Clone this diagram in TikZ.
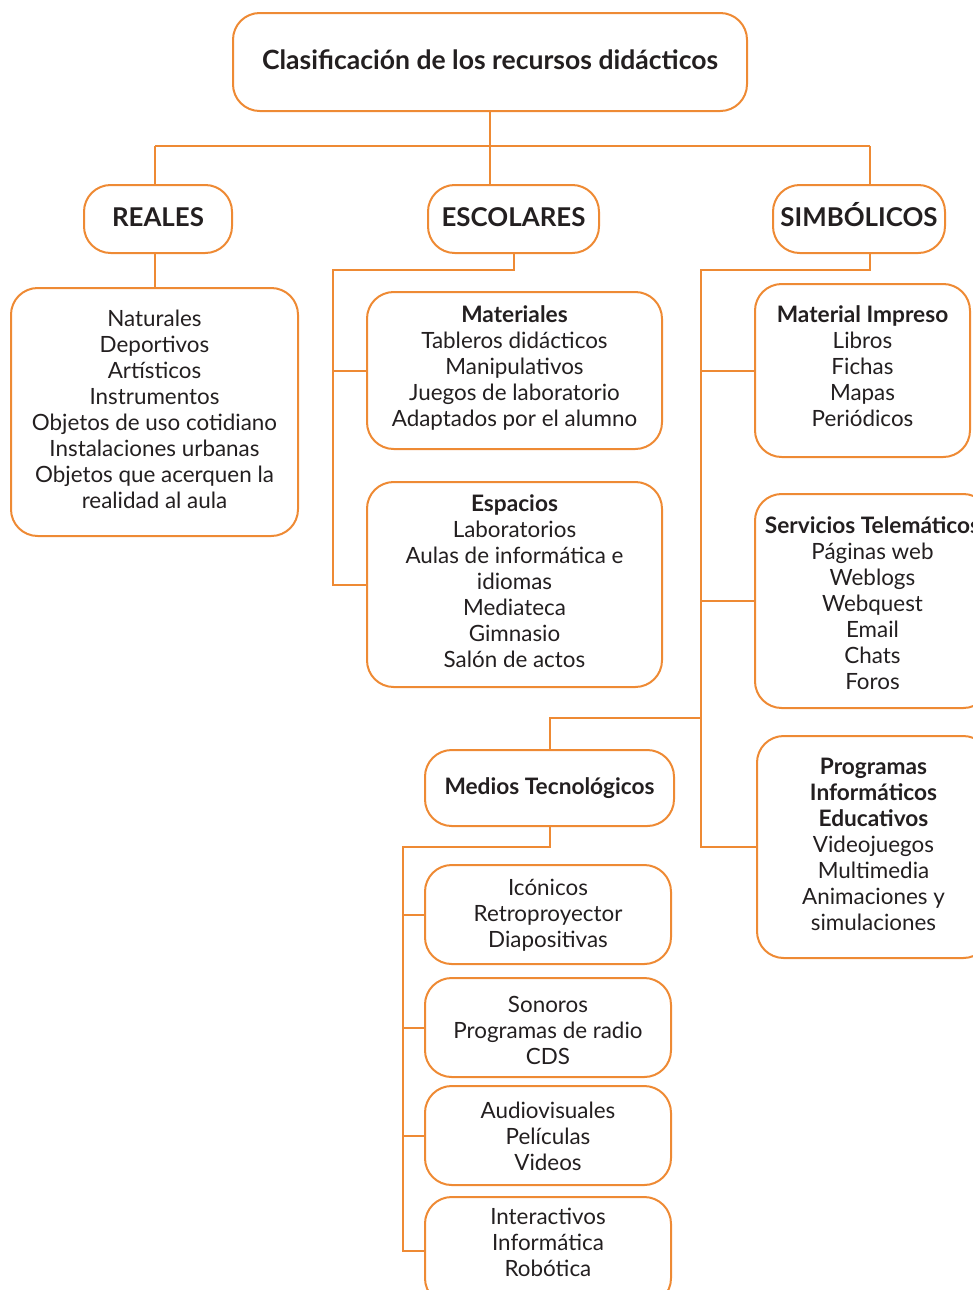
\documentclass[tikz,border=0pt]{standalone}
\usepackage{fontspec}
\setmainfont{Lato}
\definecolor{org}{HTML}{EE8A34}
\definecolor{txt}{HTML}{231F20}
\newcommand\mybox[7][]{%
  \node[box,minimum width={0.75pt*(#5-#3)},minimum height={0.75pt*(#6-#4)}] (#2) at ({(#3+#5)/2},{(#4+#6)/2}) {};
  \node[lbl,#1] (#2t) at (#2.center) {#7};}
\newcommand\reg{\fontsize{16.8pt}{19.5pt}\selectfont}
\newcommand\hd{\fontsize{17pt}{19.5pt}\selectfont\bfseries}
\newcommand\tophd{\fontsize{19.4pt}{22pt}\selectfont\bfseries}
\begin{document}
\begin{tikzpicture}[x=0.75pt,y=-0.75pt,
  box/.style={draw=org,line width=1.5pt,rounded corners=20pt,inner sep=0pt},
  lbl/.style={inner sep=0pt,align=center,text=txt,font=\reg},
  one/.style={text height=14pt,text depth=0pt},
  dy/.style={yshift={-0.75pt*(#1)}},
  conn/.style={draw=org,line width=1.5pt}]
\useasboundingbox (0,0) rectangle (973,1290);
\clip (0,0) rectangle (973,1290);
% top
\mybox[one,dy=-2]{t}{233}{13}{747}{111}{\fontsize{19.9pt}{24pt}\selectfont\bfseries Clasificación de los recursos didácticos}
\mybox[one,dy=-2]{rea}{84}{185}{232}{253}{\tophd REALES}
\mybox[one,dy=-2]{esc}{428}{185}{599}{253}{\tophd ESCOLARES}
\mybox[one,dy=-2]{sim}{773}{185}{945}{253}{\tophd SIMBÓLICOS}
% reales
\mybox[dy=-3]{rbox}{11}{288}{298}{536}{Naturales\\Deportivos\\Artísticos\\Instrumentos\\Objetos de uso cotidiano\\Instalaciones urbanas\\Objetos que acerquen la\\realidad al aula}
% escolares
\mybox[dy=-3]{mat}{367}{292}{662}{449}{{\hd Materiales}\\Tableros didácticos\\Manipulativos\\Juegos de laboratorio\\Adaptados por el alumno}
\mybox[dy=-3]{esp}{367}{482}{662}{687}{{\hd Espacios}\\Laboratorios\\Aulas de informática e\\idiomas\\Mediateca\\Gimnasio\\Salón de actos}
% simbolicos
\mybox[dy=-4]{imp}{755}{284}{970}{457}{{\hd Material Impreso}\\Libros\\Fichas\\Mapas\\Periódicos}
\mybox[dy=2]{serv}{755}{494}{990}{708}{{\hd Servicios Telemáticos}\\Páginas web\\Weblogs\\Webquest\\Email\\Chats\\Foros}
\mybox[dy=-3]{prog}{757}{736}{990}{958}{{\hd Programas}\\{\hd Informáticos}\\{\hd Educativos}\\Videojuegos\\Multimedia\\Animaciones y\\simulaciones}
\mybox[one,dy=-3]{med}{425}{750}{674}{826}{\hd Medios Tecnológicos}
\mybox[dy=1]{ico}{425}{865}{671}{964}{Icónicos\\Retroproyector\\Diapositivas}
\mybox[dy=3]{son}{425}{978}{671}{1077}{Sonoros\\Programas de radio\\CDS}
\mybox[dy=1]{aud}{425}{1086}{671}{1185}{Audiovisuales\\Películas\\Videos}
\mybox[dy=-8.5]{int}{425}{1197}{671}{1305}{Interactivos\\Informática\\Robótica}
% connectors
\coordinate (j1) at (490,146);
\coordinate (jl) at (155,146);
\coordinate (jr) at (870,146);
\draw[conn] (t.south) -- (j1);
\draw[conn] (jl) -- (jr);
\draw[conn] (jl) -- (jl |- rea.north);
\draw[conn] (j1) -- (j1 |- esc.north);
\draw[conn] (jr) -- (jr |- sim.north);
\draw[conn] (jl |- rea.south) -- (jl |- rbox.north);
\coordinate (e1) at (333,270);
\draw[conn] (esc.south) |- (e1) -- (e1 |- esp.west) -- (esp.west);
\draw[conn] (e1 |- mat.west) -- (mat.west);
\coordinate (s1) at (701,270);
\coordinate (s2) at (870,270);
\draw[conn] (s2 |- sim.south) -- (s2) -- (s1) -- (s1 |- prog.west) -- (prog.west);
\draw[conn] (s1 |- imp.west) -- (imp.west);
\draw[conn] (s1 |- serv.west) -- (serv.west);
\coordinate (m1) at (549,718);
\draw[conn] (s1 |- m1) -- (m1 -| med.north) -- (med.north);
\coordinate (m2) at (403,847);
\draw[conn] (med.south) |- (m2) -- (m2 |- int.west) -- (int.west);
\draw[conn] (m2 |- ico.west) -- (ico.west);
\draw[conn] (m2 |- son.west) -- (son.west);
\draw[conn] (m2 |- aud.west) -- (aud.west);
\end{tikzpicture}
\end{document}
